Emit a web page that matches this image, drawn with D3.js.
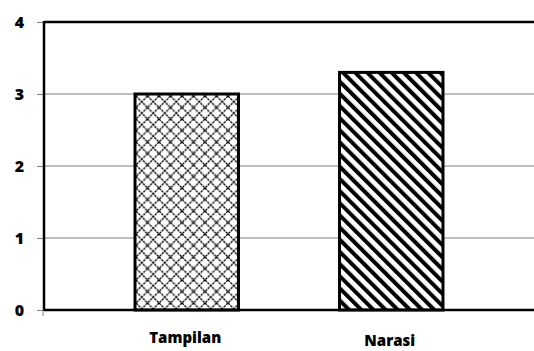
<!DOCTYPE html>
<html><head><meta charset="utf-8">
<script src="https://cdn.jsdelivr.net/npm/d3@7"></script>
<style>body{margin:0;background:#fff}svg{display:block}</style>
</head><body>
<svg id="c" width="534" height="351"></svg>
<script>
const categories = ["Tampilan", "Narasi"];
const values = [3.0, 3.3];
const yTicks = [0, 1, 2, 3, 4];
const patterns = ["lattice", "stripes"];

(function () {
const svg = d3.select("#c");
const mL = 44, mR = 534, mT = 22, mB = 310;

const y = d3.scaleLinear().domain([0, 4]).range([mB, mT]);
const x = d3.scaleBand().domain(categories).range([84.5, 493.5]).paddingInner(0.494).paddingOuter(0.247);

const defs = svg.append("defs");
const P = 11.5;
const lat = defs.append("pattern").attr("id", "lattice").attr("patternUnits", "userSpaceOnUse")
  .attr("width", P).attr("height", P).attr("x", 136).attr("y", 96);
lat.append("rect").attr("width", P).attr("height", P).attr("fill", "#fff");
lat.append("path").attr("d", `M0,0L${P},${P}M${P},0L0,${P}`)
  .attr("stroke", "#000").attr("stroke-width", 1.3).attr("stroke-dasharray", "2.5,0.8");
const S = 8.6;
const st = defs.append("pattern").attr("id", "stripes").attr("patternUnits", "userSpaceOnUse")
  .attr("width", S).attr("height", S).attr("patternTransform", "rotate(-45)");
st.append("rect").attr("width", S).attr("height", S).attr("fill", "#fff");
st.append("rect").attr("width", 4).attr("height", S).attr("fill", "#000");

// gridlines
svg.append("g").selectAll("line").data(yTicks.filter(t => t > 0 && t < 4)).join("line")
  .attr("x1", mL).attr("x2", mR).attr("y1", d => y(d)).attr("y2", d => y(d))
  .attr("stroke", "#808080").attr("stroke-width", 1);

// y axis
const yAxis = d3.axisLeft(y).tickValues(yTicks).tickSize(7).tickPadding(13).tickFormat(d3.format("d"));
const gy = svg.append("g").attr("transform", `translate(${mL},0)`).call(yAxis);
gy.select(".domain").remove();
gy.selectAll(".tick line").attr("stroke", "#808080");
gy.selectAll("text").attr("font-family", "'Open Sans', sans-serif").attr("font-weight", 800)
  .attr("font-size", 16).attr("fill", "#000");

// bars
svg.append("g").selectAll("rect").data(values).join("rect")
  .attr("x", (d, i) => x(categories[i])).attr("width", x.bandwidth())
  .attr("y", d => y(d)).attr("height", d => y(0) - y(d))
  .attr("fill", (d, i) => `url(#${patterns[i]})`)
  .attr("stroke", "#000").attr("stroke-width", 3);

// frame lines
svg.append("line").attr("x1", mL).attr("x2", mR).attr("y1", mT).attr("y2", mT).attr("stroke", "#000").attr("stroke-width", 2.5);
svg.append("line").attr("x1", mL).attr("x2", mR).attr("y1", mB).attr("y2", mB).attr("stroke", "#000").attr("stroke-width", 2.5);
svg.append("line").attr("x1", mL).attr("x2", mL).attr("y1", mT - 1).attr("y2", mB + 1).attr("stroke", "#000").attr("stroke-width", 2.5);
svg.append("line").attr("x1", mL - 1).attr("x2", mL - 1).attr("y1", mB).attr("y2", mB + 6).attr("stroke", "#808080").attr("stroke-width", 1);

// x labels
const labY = [338.5, 342];
svg.append("g").selectAll("text").data(categories).join("text")
  .attr("x", d => x(d) + x.bandwidth() / 2 - 1.5).attr("y", (d, i) => labY[i])
  .attr("text-anchor", "middle").attr("dominant-baseline", "middle")
  .attr("font-family", "'Open Sans', sans-serif").attr("font-weight", 800).attr("font-size", 15)
  .text(d => d);
})();
</script>
</body></html>
